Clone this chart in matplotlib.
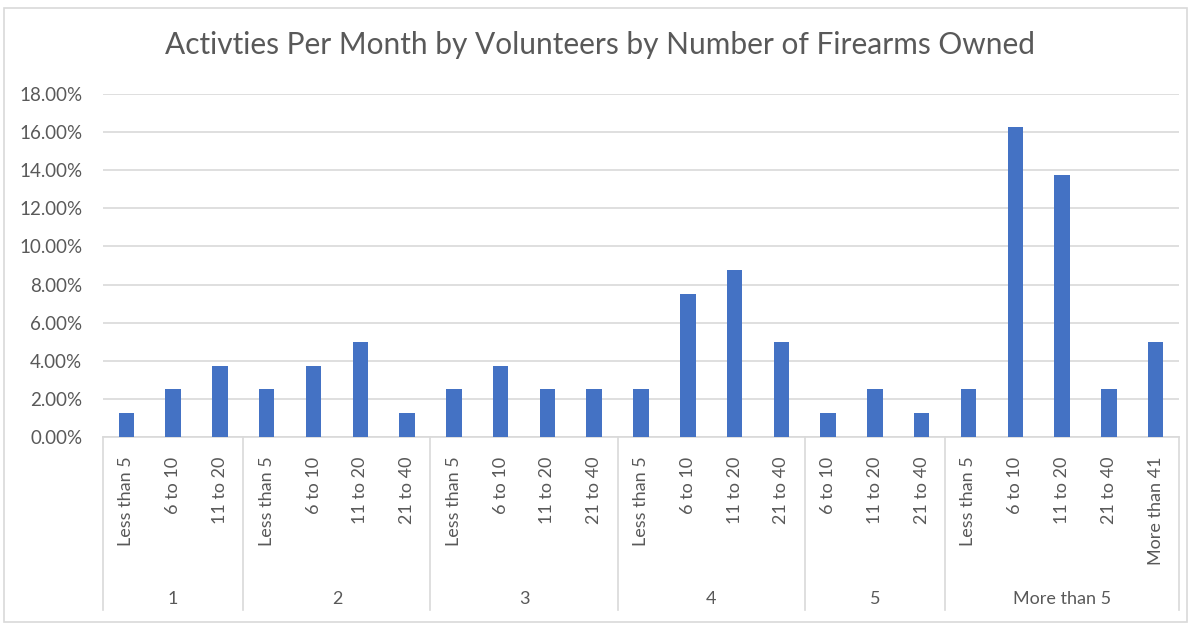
import numpy as np
import matplotlib
matplotlib.use("Agg")
import matplotlib.pyplot as plt
from matplotlib.patches import Rectangle
from matplotlib.ticker import FuncFormatter

plt.rcParams['font.family'] = ['Lato', 'DejaVu Sans']

# firearms owned groups and activity-per-month buckets inside each
groups = ["1", "2", "3", "4", "5", "More than 5"]
group_cats = [
    ["Less than 5", "6 to 10", "11 to 20"],
    ["Less than 5", "6 to 10", "11 to 20", "21 to 40"],
    ["Less than 5", "6 to 10", "11 to 20", "21 to 40"],
    ["Less than 5", "6 to 10", "11 to 20", "21 to 40"],
    ["6 to 10", "11 to 20", "21 to 40"],
    ["Less than 5", "6 to 10", "11 to 20", "21 to 40", "More than 41"],
]
group_vals = [
    [1.25, 2.50, 3.75],
    [2.50, 3.75, 5.00, 1.25],
    [2.50, 3.75, 2.50, 2.50],
    [2.50, 7.50, 8.75, 5.00],
    [1.25, 2.50, 1.25],
    [2.50, 16.25, 13.75, 2.50, 5.00],
]

labels = [c for g in group_cats for c in g]
values = [v for g in group_vals for v in g]
x = np.arange(len(values))

text_col = "#595959"
grid_col = "#D9D9D9"

fig = plt.figure(figsize=(12, 6.3), dpi=100)
ax = fig.add_axes([103 / 1200, 1 - 437 / 630, 1076 / 1200, 343 / 630])

ax.bar(x, values, width=0.33, color="#4472C4", zorder=3)
ax.set_xlim(-0.5, len(values) - 0.5)
ax.set_ylim(0, 18)
ax.set_yticks(np.arange(0, 19, 2))
ax.yaxis.set_major_formatter(FuncFormatter(lambda v, p: f"{v:.2f}%"))
ax.grid(axis="y", color=grid_col, linewidth=1.2, zorder=0)
for s in ["top", "right", "left"]:
    ax.spines[s].set_visible(False)
ax.spines["bottom"].set_color(grid_col)
ax.spines["bottom"].set_linewidth(1.2)
ax.tick_params(axis="y", length=0, labelsize=13.5, labelcolor=text_col, pad=15)
ax.tick_params(axis="x", length=0)
ax.set_xticks(x)
ax.set_xticklabels(labels, rotation=90, fontsize=13, color=text_col, va="top")
ax.tick_params(axis="x", pad=14)

# group separators and group labels below category labels
sep_depth = -(610 - 437) / 343
bounds = np.cumsum([0] + [len(g) for g in group_cats]) - 0.5
trans = ax.get_xaxis_transform()
for b in bounds:
    ax.plot([b, b], [0, sep_depth], color=grid_col, linewidth=1.2,
            transform=trans, clip_on=False)
for i, g in enumerate(groups):
    mid = (bounds[i] + bounds[i + 1]) / 2
    ax.text(mid, -(599 - 437) / 343, g, transform=trans, ha="center",
            va="center", fontsize=13, color=text_col)

fig.text(0.5, 1 - 45 / 630, "Activties Per Month by Volunteers by Number of Firearms Owned",
         ha="center", va="center", fontsize=21.5, color=text_col)

fig.patches.append(Rectangle((4 / 1200, 1 - 622 / 630), 1183 / 1200, 614 / 630,
                             transform=fig.transFigure, fill=False,
                             edgecolor=grid_col, linewidth=1.2))

fig.savefig("out.png", dpi=100)
